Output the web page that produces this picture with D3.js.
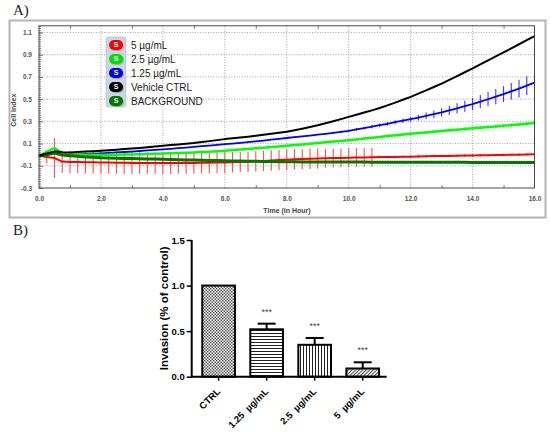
<!DOCTYPE html>
<html>
<head>
<meta charset="utf-8">
<script src="https://cdn.jsdelivr.net/npm/d3@7"></script>
<style>
  html, body { margin: 0; padding: 0; background: #fff; }
  svg { display: block; }
</style>
</head>
<body>
<svg id="chart"></svg>
<script>
// ---- Panel A: real-time cell index, sampled every 15 min ----
const sampleHours = d3.range(0, 16.01, 0.25);

const ctrlIndex = [-0.01, 0.01, 0.03, 0.022, 0.02, 0.024, 0.028, 0.031, 0.035, 0.04, 0.045, 0.05, 0.055,
  0.061, 0.067, 0.074, 0.08, 0.086, 0.092, 0.099, 0.105, 0.113, 0.122, 0.131, 0.14, 0.147, 0.155, 0.162,
  0.17, 0.179, 0.188, 0.197, 0.206, 0.22, 0.234, 0.249, 0.265, 0.283, 0.301, 0.32, 0.34, 0.359, 0.379,
  0.399, 0.42, 0.444, 0.469, 0.494, 0.52, 0.549, 0.579, 0.609, 0.64, 0.673, 0.707, 0.742, 0.777, 0.812,
  0.848, 0.884, 0.92, 0.957, 0.994, 1.031, 1.068];

const dose125Index = [-0.01, 0.0, 0.02, 0.006, 0.0, 0.003, 0.006, 0.009, 0.012, 0.016, 0.02, 0.024, 0.028,
  0.033, 0.038, 0.043, 0.048, 0.053, 0.059, 0.064, 0.07, 0.076, 0.082, 0.088, 0.094, 0.1, 0.107, 0.113,
  0.12, 0.127, 0.135, 0.142, 0.15, 0.157, 0.165, 0.172, 0.18, 0.188, 0.197, 0.206, 0.215, 0.227, 0.239,
  0.252, 0.265, 0.278, 0.292, 0.306, 0.32, 0.334, 0.349, 0.364, 0.38, 0.398, 0.417, 0.436, 0.455, 0.477,
  0.499, 0.522, 0.545, 0.57, 0.595, 0.621, 0.648];

const dose25Index = [-0.01, 0.025, 0.06, 0.012, 0.004, 0.002, 0.0, -0.001, -0.002, -0.001, 0.0, 0.001, 0.002,
  0.004, 0.006, 0.008, 0.01, 0.012, 0.015, 0.017, 0.02, 0.024, 0.027, 0.031, 0.035, 0.041, 0.046, 0.052,
  0.058, 0.063, 0.069, 0.074, 0.08, 0.086, 0.092, 0.099, 0.105, 0.111, 0.118, 0.124, 0.13, 0.137, 0.145,
  0.152, 0.16, 0.167, 0.174, 0.181, 0.188, 0.194, 0.2, 0.207, 0.213, 0.219, 0.225, 0.231, 0.237, 0.243,
  0.249, 0.254, 0.26, 0.266, 0.272, 0.279, 0.285];

const dose5Index = [-0.01, -0.02, -0.03, -0.062, -0.065, -0.066, -0.068, -0.069, -0.07, -0.071, -0.072, -0.073,
  -0.074, -0.075, -0.075, -0.076, -0.076, -0.076, -0.075, -0.075, -0.074, -0.073, -0.072, -0.071, -0.07,
  -0.068, -0.065, -0.063, -0.06, -0.056, -0.052, -0.049, -0.045, -0.042, -0.04, -0.037, -0.035, -0.033,
  -0.031, -0.03, -0.028, -0.026, -0.025, -0.023, -0.022, -0.021, -0.02, -0.019, -0.018, -0.016, -0.015,
  -0.013, -0.012, -0.011, -0.01, -0.008, -0.007, -0.006, -0.005, -0.003, -0.002, -0.001, 0.0, 0.002, 0.003];

const backgroundIndex = [-0.01, 0.0, 0.015, -0.004, -0.01, -0.015, -0.02, -0.024, -0.028, -0.03, -0.032, -0.034,
  -0.035, -0.037, -0.039, -0.04, -0.042, -0.044, -0.045, -0.047, -0.048, -0.05, -0.052, -0.053, -0.055,
  -0.056, -0.057, -0.059, -0.06, -0.061, -0.062, -0.063, -0.064, -0.064, -0.065, -0.065, -0.066, -0.066,
  -0.066, -0.067, -0.067, -0.067, -0.067, -0.068, -0.068, -0.068, -0.068, -0.068, -0.068, -0.069, -0.069,
  -0.069, -0.069, -0.069, -0.069, -0.069, -0.07, -0.07, -0.07, -0.07, -0.07, -0.07, -0.07, -0.07, -0.07];

// standard deviations (only the treated wells show visible bars)
const dose5Sd = [0, 0.06, 0.18, 0.1, 0.1, 0.1, 0.1, 0.1, 0.1, 0.1, 0.1, 0.1, 0.1,
  0.097, 0.097, 0.097, 0.097, 0.097, 0.097, 0.097, 0.097, 0.097, 0.097, 0.097, 0.097,
  0.092, 0.092, 0.092, 0.092, 0.092, 0.092, 0.092, 0.092, 0.092, 0.092, 0.092, 0.092,
  0.085, 0.085, 0.085, 0.085, 0.085, 0.085, 0.085,
  0.012, 0.012, 0.012, 0.012, 0.012, 0.012, 0.012, 0.012, 0.012, 0.012, 0.012, 0.012, 0.012, 0.012,
  0.012, 0.012, 0.012, 0.012, 0.012, 0.012, 0.012];

const dose125Sd = [0.004, 0.004, 0.004, 0.004, 0.004, 0.004, 0.004, 0.004, 0.004, 0.004, 0.004, 0.004, 0.004,
  0.004, 0.004, 0.004, 0.004, 0.004, 0.004, 0.004, 0.004, 0.004, 0.004, 0.004, 0.004, 0.004, 0.004, 0.004,
  0.004, 0.004, 0.004, 0.004, 0.004, 0.004, 0.004, 0.004, 0.004,
  0.008, 0.009, 0.01, 0.011, 0.012, 0.013, 0.014, 0.015, 0.016, 0.018, 0.02, 0.022,
  0.026, 0.03, 0.034, 0.038, 0.042, 0.046, 0.05, 0.055, 0.06, 0.064, 0.068, 0.072, 0.076, 0.08, 0.085, 0.09];

const dose25Sd = [0.004, 0.004, 0.004, 0.004, 0.004, 0.004, 0.004, 0.004, 0.004, 0.004, 0.004, 0.004, 0.004,
  0.004, 0.004, 0.004, 0.004, 0.004, 0.004, 0.004, 0.004, 0.004, 0.004, 0.004, 0.004, 0.004, 0.004, 0.004,
  0.004, 0.004, 0.004, 0.004, 0.004, 0.004, 0.004, 0.004, 0.004,
  0.008, 0.008, 0.008, 0.008, 0.008, 0.008, 0.008, 0.008,
  0.012, 0.012, 0.012, 0.012, 0.012, 0.012, 0.012, 0.012, 0.012, 0.012,
  0.016, 0.016, 0.016, 0.016, 0.016, 0.016, 0.016, 0.016, 0.016, 0.016];

const hourTicks = [0, 2, 4, 6, 8, 10, 12, 14, 16];
const oddHourTicks = [1, 3, 5, 7, 9, 11, 13, 15];
const indexTicks = [-0.3, -0.1, 0.1, 0.3, 0.5, 0.7, 0.9, 1.1];

const legendLabels = ['5 µg/mL', '2.5 µg/mL', '1.25 µg/mL', 'Vehicle CTRL', 'BACKGROUND'];

// ---- Panel B: invasion relative to control ----
const invasionGroups = ['CTRL', '1.25  µg/mL', '2.5  µg/mL', '5  µg/mL'];
const invasionMean = [1.0, 0.52, 0.35, 0.09];
const invasionSem = [0, 0.062, 0.075, 0.068];
const invasionStars = ['', '***', '***', '***'];
const invasionTicks = [0.0, 0.5, 1.0, 1.5];

document.addEventListener('DOMContentLoaded', function () {
  const width = 550;
  const height = 438;

  const svg = d3.select('#chart').attr('width', width).attr('height', height);
  svg.append('rect').attr('width', width).attr('height', height).attr('fill', '#fff');

  const defs = svg.append('defs');

  // ================= Panel A =================
  svg.append('text')
    .attr('x', 13).attr('y', 15)
    .attr('font-family', 'Liberation Serif, serif')
    .attr('font-size', 15)
    .attr('fill', '#222')
    .text('A)');

  // outer frame of the instrument screenshot
  svg.append('rect')
    .attr('x', 9.5).attr('y', 20.5).attr('width', 536).attr('height', 197)
    .attr('fill', '#fff').attr('stroke', '#b4b4b4').attr('stroke-width', 2);

  const x = d3.scaleLinear().domain([0, 16]).range([39, 534.5]);
  const y = d3.scaleLinear().domain([-0.3, 1.16]).range([188, 25.8]);

  const plot = svg.append('g');

  // dotted grid
  plot.append('g')
    .selectAll('line')
    .data(hourTicks.slice(1, -1))
    .join('line')
    .attr('x1', d => x(d)).attr('x2', d => x(d))
    .attr('y1', y.range()[1]).attr('y2', y.range()[0])
    .attr('stroke', '#8a8a8a').attr('stroke-width', 0.8).attr('stroke-dasharray', '1,1.6');

  plot.append('g')
    .selectAll('line')
    .data(indexTicks.slice(1))
    .join('line')
    .attr('x1', x(0)).attr('x2', x(16))
    .attr('y1', d => y(d)).attr('y2', d => y(d))
    .attr('stroke', '#8a8a8a').attr('stroke-width', 0.8).attr('stroke-dasharray', '1,1.6');

  // axes
  const tickFont = 'Liberation Sans, Arial, sans-serif';

  const yAxis = plot.append('g')
    .attr('transform', 'translate(' + x(0) + ',0)')
    .call(d3.axisLeft(y).tickValues(indexTicks).tickSizeInner(-4).tickSizeOuter(0)
      .tickPadding(7).tickFormat(d => d.toFixed(1)));
  const yMinor = plot.append('g')
    .attr('transform', 'translate(' + x(0) + ',0)')
    .call(d3.axisLeft(y).tickValues(d3.range(-0.3, 1.161, 0.02)).tickSizeInner(-2).tickSizeOuter(0)
      .tickFormat(''));

  const xAxis = plot.append('g')
    .attr('transform', 'translate(0,' + y(-0.3) + ')')
    .call(d3.axisBottom(x).tickValues(hourTicks).tickSize(0).tickPadding(8)
      .tickFormat(d => d.toFixed(1)));
  const xMinorBottom = plot.append('g')
    .attr('transform', 'translate(0,' + y(-0.3) + ')')
    .call(d3.axisBottom(x).tickValues(oddHourTicks).tickSizeInner(-3).tickSizeOuter(0).tickFormat(''));
  const xMinorTop = plot.append('g')
    .attr('transform', 'translate(0,' + y.range()[1] + ')')
    .call(d3.axisTop(x).tickValues(oddHourTicks).tickSizeInner(-3).tickSizeOuter(0).tickFormat(''));

  [yAxis, yMinor, xAxis, xMinorBottom, xMinorTop].forEach(function (g) {
    g.select('.domain').remove();
    g.selectAll('line').attr('stroke', '#555').attr('stroke-width', 0.8);
    g.selectAll('text')
      .attr('font-family', tickFont)
      .attr('font-size', 6.5)
      .attr('font-weight', 'bold')
      .attr('fill', '#555');
  });

  // axis titles
  plot.append('text')
    .attr('transform', 'translate(16,' + y(0.4) + ') rotate(-90)')
    .attr('text-anchor', 'middle')
    .attr('font-family', tickFont).attr('font-size', 7).attr('font-weight', 'bold')
    .attr('fill', '#444')
    .text('Cell Index');

  plot.append('text')
    .attr('x', 287).attr('y', 213)
    .attr('text-anchor', 'middle')
    .attr('font-family', tickFont).attr('font-size', 7).attr('font-weight', 'bold')
    .attr('fill', '#444')
    .text('Time (in Hour)');

  // series: drawn in the instrument's layering order
  const series = [
    { name: legendLabels[0], values: dose5Index, sd: dose5Sd, color: '#ff0000', barColor: '#ff5050', width: 2 },
    { name: legendLabels[2], values: dose125Index, sd: dose125Sd, color: '#0000ff', barColor: '#3a3aff', width: 1.8 },
    { name: legendLabels[1], values: dose25Index, sd: dose25Sd, color: '#00ff00', barColor: '#30f030', width: 2.5 },
    { name: legendLabels[4], values: backgroundIndex, sd: null, color: '#007800', width: 3 },
    { name: legendLabels[3], values: ctrlIndex, sd: null, color: '#000000', width: 2 },
  ];

  const line = d3.line()
    .x((d, i) => x(sampleHours[i]))
    .y(d => y(d));

  series.forEach(function (s) {
    if (s.sd) {
      plot.append('g')
        .selectAll('line')
        .data(s.values)
        .join('line')
        .attr('x1', (d, i) => x(sampleHours[i]))
        .attr('x2', (d, i) => x(sampleHours[i]))
        .attr('y1', (d, i) => y(d - s.sd[i]))
        .attr('y2', (d, i) => y(d + s.sd[i]))
        .attr('stroke', s.barColor)
        .attr('stroke-width', 1.1);
    }
    plot.append('path')
      .datum(s.values)
      .attr('d', line)
      .attr('fill', 'none')
      .attr('stroke', s.color)
      .attr('stroke-width', s.width)
      .attr('stroke-linejoin', 'round');
  });

  // plot border
  plot.append('rect')
    .attr('x', x(0)).attr('y', y.range()[1])
    .attr('width', x(16) - x(0)).attr('height', y(-0.3) - y.range()[1])
    .attr('fill', 'none').attr('stroke', '#4a4a4a').attr('stroke-width', 1);

  // legend
  const legendColors = ['#ff0000', '#00e000', '#0000ee', '#000000', '#007800'];
  const legend = plot.append('g').attr('transform', 'translate(106,37)');
  legend.append('rect')
    .attr('width', 20).attr('height', 70).attr('rx', 2)
    .attr('fill', '#c9d6e4').attr('stroke', '#aebccc').attr('stroke-width', 0.6);

  const legendRow = legend.selectAll('g.item')
    .data(legendLabels)
    .join('g')
    .attr('class', 'item')
    .attr('transform', (d, i) => 'translate(0,' + (8 + i * 14) + ')');

  legendRow.append('rect')
    .attr('x', 4).attr('y', -4).attr('width', 14).attr('height', 10).attr('rx', 5)
    .attr('fill', '#8c8c8c').attr('opacity', 0.6);
  legendRow.append('rect')
    .attr('x', 3).attr('y', -5).attr('width', 14).attr('height', 10).attr('rx', 5)
    .attr('fill', (d, i) => legendColors[i]);
  legendRow.append('text')
    .attr('x', 10).attr('y', 0).attr('dy', '0.35em')
    .attr('text-anchor', 'middle')
    .attr('font-family', tickFont).attr('font-size', 7).attr('font-weight', 'bold')
    .attr('fill', '#fff')
    .text('S');
  legendRow.append('text')
    .attr('x', 25).attr('y', 0).attr('dy', '0.35em')
    .attr('font-family', 'Liberation Sans, Arial, sans-serif').attr('font-size', 10)
    .attr('fill', '#222')
    .text(d => d);

  // ================= Panel B =================
  svg.append('text')
    .attr('x', 13).attr('y', 235)
    .attr('font-family', 'Liberation Serif, serif')
    .attr('font-size', 15)
    .attr('fill', '#222')
    .text('B)');

  // fill patterns
  const checker = defs.append('pattern')
    .attr('id', 'checker').attr('patternUnits', 'userSpaceOnUse')
    .attr('width', 3).attr('height', 3);
  checker.append('rect').attr('width', 3).attr('height', 3).attr('fill', '#fff');
  checker.append('rect').attr('width', 1.5).attr('height', 1.5).attr('fill', '#555');
  checker.append('rect').attr('x', 1.5).attr('y', 1.5).attr('width', 1.5).attr('height', 1.5).attr('fill', '#555');

  const horiz = defs.append('pattern')
    .attr('id', 'horiz').attr('patternUnits', 'userSpaceOnUse')
    .attr('width', 3).attr('height', 3);
  horiz.append('rect').attr('width', 3).attr('height', 3).attr('fill', '#fff');
  horiz.append('rect').attr('width', 3).attr('height', 1).attr('fill', '#222');

  const vert = defs.append('pattern')
    .attr('id', 'vert').attr('patternUnits', 'userSpaceOnUse')
    .attr('width', 3).attr('height', 3);
  vert.append('rect').attr('width', 3).attr('height', 3).attr('fill', '#fff');
  vert.append('rect').attr('width', 1).attr('height', 3).attr('fill', '#222');

  const diag = defs.append('pattern')
    .attr('id', 'diag').attr('patternUnits', 'userSpaceOnUse')
    .attr('width', 2.5).attr('height', 2.5)
    .attr('patternTransform', 'rotate(45)');
  diag.append('rect').attr('width', 2.5).attr('height', 2.5).attr('fill', '#fff');
  diag.append('rect').attr('width', 1).attr('height', 2.5).attr('fill', '#444');

  const barFills = ['url(#checker)', 'url(#horiz)', 'url(#vert)', 'url(#diag)'];

  const bx = d3.scaleBand()
    .domain(invasionGroups)
    .range([191.7, 389.6])
    .paddingInner(0.32)
    .paddingOuter(0.22);
  const by = d3.scaleLinear().domain([0, 1.5]).range([376.7, 240]);

  const bars = svg.append('g');

  bars.selectAll('rect.bar')
    .data(invasionMean)
    .join('rect')
    .attr('class', 'bar')
    .attr('x', (d, i) => bx(invasionGroups[i]))
    .attr('y', d => by(d))
    .attr('width', bx.bandwidth())
    .attr('height', d => by(0) - by(d))
    .attr('fill', (d, i) => barFills[i])
    .attr('stroke', '#000')
    .attr('stroke-width', 2);

  // error bars (upper only)
  const errGroups = bars.selectAll('g.err')
    .data(invasionMean.map((m, i) => ({ m: m, e: invasionSem[i], g: invasionGroups[i], s: invasionStars[i] })).filter(d => d.e > 0))
    .join('g')
    .attr('class', 'err');
  errGroups.append('line')
    .attr('x1', d => bx(d.g) + bx.bandwidth() / 2)
    .attr('x2', d => bx(d.g) + bx.bandwidth() / 2)
    .attr('y1', d => by(d.m))
    .attr('y2', d => by(d.m + d.e))
    .attr('stroke', '#000').attr('stroke-width', 2);
  errGroups.append('line')
    .attr('x1', d => bx(d.g) + bx.bandwidth() / 2 - 9)
    .attr('x2', d => bx(d.g) + bx.bandwidth() / 2 + 9)
    .attr('y1', d => by(d.m + d.e))
    .attr('y2', d => by(d.m + d.e))
    .attr('stroke', '#000').attr('stroke-width', 2);
  errGroups.append('text')
    .attr('x', d => bx(d.g) + bx.bandwidth() / 2)
    .attr('y', d => by(d.m + d.e) - 9)
    .attr('text-anchor', 'middle')
    .attr('font-family', 'Liberation Sans, Arial, sans-serif')
    .attr('font-size', 9)
    .attr('fill', '#444')
    .text(d => d.s);

  // axes
  const byAxis = svg.append('g')
    .attr('transform', 'translate(191.7,0)')
    .call(d3.axisLeft(by).tickValues(invasionTicks).tickSize(5).tickSizeOuter(0).tickPadding(2)
      .tickFormat(d => d.toFixed(1)));
  byAxis.select('.domain').attr('stroke-width', 2).attr('d', 'M0,' + by(1.5) + 'V' + (by(0) + 1));

  const bxAxis = svg.append('g')
    .attr('transform', 'translate(0,' + by(0) + ')')
    .call(d3.axisBottom(bx).tickSize(4).tickSizeOuter(0).tickPadding(3));
  bxAxis.select('.domain').attr('stroke-width', 2).attr('d', 'M191.7,0H386.7');

  [byAxis, bxAxis].forEach(function (g) {
    g.selectAll('line').attr('stroke', '#000').attr('stroke-width', 1.5);
    g.selectAll('text')
      .attr('font-family', 'Liberation Sans, Arial, sans-serif')
      .attr('font-size', 9.5)
      .attr('font-weight', 'bold')
      .attr('fill', '#000');
  });

  // keep the double space in the dose labels
  bxAxis.selectAll('text')
    .style('white-space', 'pre')
    .attr('text-anchor', 'end')
    .attr('dy', '0.35em')
    .attr('transform', 'translate(0,13) rotate(-45)')
    .attr('y', 0);

  svg.append('text')
    .attr('transform', 'translate(168,' + by(0.75) + ') rotate(-90)')
    .attr('text-anchor', 'middle')
    .attr('font-family', 'Liberation Sans, Arial, sans-serif')
    .attr('font-size', 11.5)
    .attr('font-weight', 'bold')
    .attr('fill', '#000')
    .text('Invasion (% of control)');
});
</script>
</body>
</html>
